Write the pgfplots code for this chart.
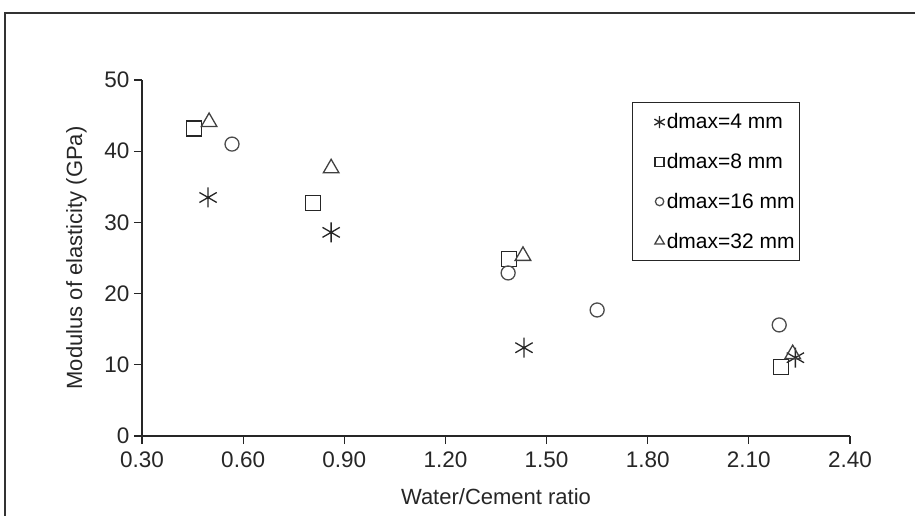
\documentclass[border=0pt]{standalone}
\usepackage{pgfplots}
\pgfplotsset{compat=1.18}
\usepackage{fontspec}
\setmainfont{Liberation Sans}
\begin{document}
\begin{tikzpicture}[x=1pt,y=1pt]
\path[use as bounding box] (0,0) rectangle (915,515);
\draw[line width=2.2pt, black!80] (5,-5) -- (5,502) -- (920,502);
\begin{axis}[
  at={(142pt,79pt)}, anchor=south west,
  scale only axis, width=708pt, height=356pt,
  xmin=0.3, xmax=2.4, ymin=0, ymax=50,
  axis x line*=bottom, axis y line*=left,
  axis line style={line width=1.4pt, black!85},
  xtick={0.3,0.6,...,2.4}, ytick={0,10,...,50},
  tick align=outside, major tick length=8pt,
  tick style={line width=1.2pt, black!85},
  every tick label/.append style={font=\fontsize{22.5}{26}\selectfont, text=black!85},
  xticklabel style={yshift=-4pt},
  yticklabel style={xshift=-1pt},
  /pgf/number format/assume math mode=true,
  xticklabel={\pgfmathprintnumber[fixed,fixed zerofill,precision=2]{\tick}},
  yticklabel={\pgfmathprintnumber[fixed,precision=0]{\tick}},
  scaled x ticks=false,
  xlabel={Water/Cement ratio}, ylabel={Modulus of elasticity (GPa)},
  label style={font=\fontsize{22}{25}\selectfont, text=black!85},
  xlabel style={yshift=-14pt},
  ylabel style={yshift=11pt},
  clip=false,
  legend style={at={(0.692,0.938)}, anchor=north west, draw=black!85, line width=1.3pt,
    font=\fontsize{21}{24}\selectfont, row sep=19pt, inner xsep=3pt, inner ysep=9pt,
    cells={anchor=west}, legend image post style={scale=0.6}},
  legend image code/.code={\path[draw=none,fill=none] (0pt,0pt) -- (46pt,0pt); \draw plot coordinates {(40pt,0pt)};},
]
\addplot[only marks, mark=asterisk, mark size=10pt, line width=1.3pt, black!85] coordinates {
(0.496,33.5) (0.861,28.6) (1.433,12.4) (2.238,11.0)};
\addlegendentry{dmax=4 mm}
\addplot[only marks, mark=square, mark size=7.5pt, line width=1.3pt, black!85] coordinates {
(0.454,43.2) (0.807,32.7) (1.389,24.9) (2.196,9.7)};
\addlegendentry{dmax=8 mm}
\addplot[only marks, mark=o, mark size=7pt, line width=1.3pt, black!70] coordinates {
(0.567,41.0) (1.386,22.9) (1.65,17.7) (2.19,15.6)};
\addlegendentry{dmax=16 mm}
\addplot[only marks, mark=triangle, mark size=9pt, line width=1.3pt, black!75] coordinates {
(0.499,44.1) (0.861,37.6) (1.43,25.3) (2.23,11.5)};
\addlegendentry{dmax=32 mm}
\end{axis}
\end{tikzpicture}
\end{document}
